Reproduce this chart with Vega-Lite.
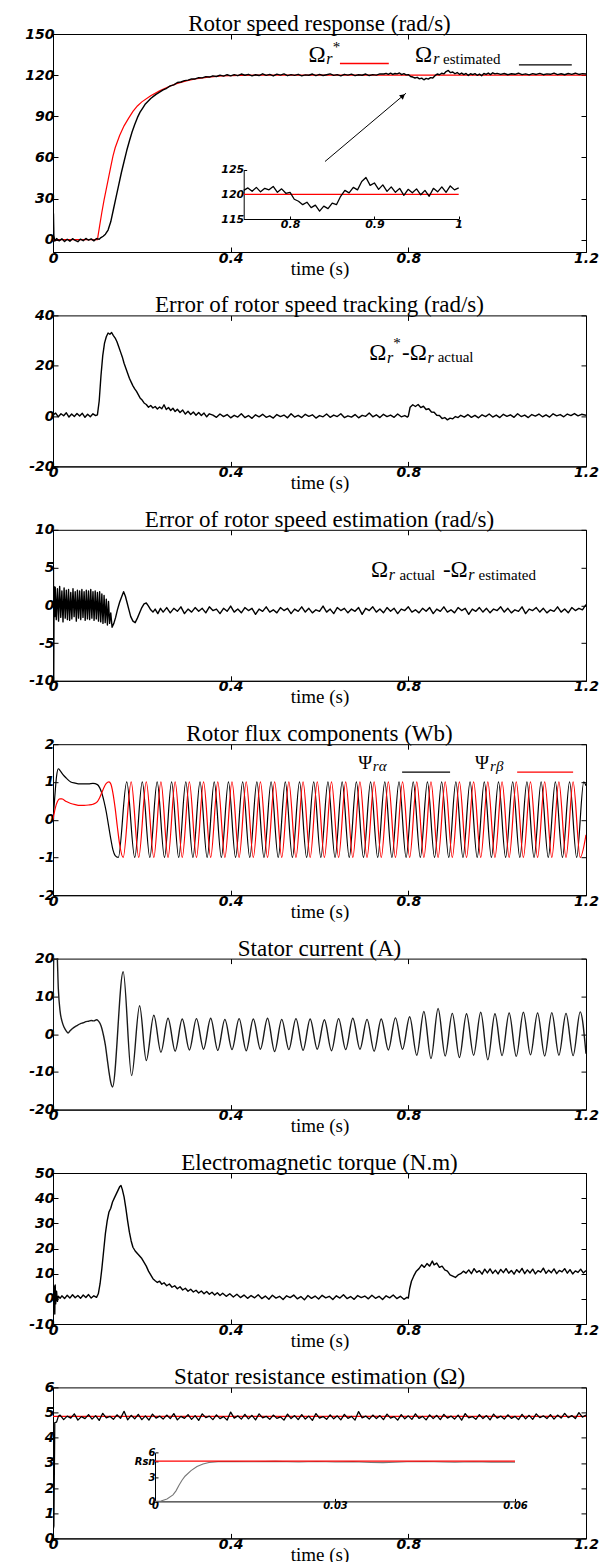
{
"$schema":"https://vega.github.io/schema/vega-lite/v6.json",
"background":"white",
"padding":{"left":24,"top":12,"right":0,"bottom":0},
"bounds":"flush",
"spacing":63.4,
"config":{
 "view":{"stroke":"#000","strokeWidth":1},
 "axis":{"grid":false,"domainColor":"#000","tickColor":"#000","labelColor":"#000","titleColor":"#000","labelFont":"DejaVu Sans","labelFontStyle":"italic","labelFontWeight":"bold","labelFontSize":14,"labelFlush":false,"labelOverlap":false,"tickSize":-5,"labelPadding":4,"titleFont":"Liberation Serif","titleFontWeight":"normal","titleFontSize":19},
 "title":{"font":"Liberation Serif","fontSize":23,"fontWeight":"normal","color":"#000","baseline":"alphabetic","offset":-9,"anchor":"middle","frame":"group"}
},
"datasets":{
 "spRef":[{"t":0,"v":0},{"t":0.1,"v":0},{"t":0.105,"v":10},{"t":0.11,"v":20},{"t":0.115,"v":29},{"t":0.12,"v":37},{"t":0.125,"v":45},{"t":0.13,"v":53},{"t":0.135,"v":61},{"t":0.14,"v":67},{"t":0.15,"v":76},{"t":0.16,"v":83},{"t":0.17,"v":88.5},{"t":0.18,"v":93.5},{"t":0.19,"v":97.5},{"t":0.2,"v":100.5},{"t":0.22,"v":105},{"t":0.24,"v":108.5},{"t":0.26,"v":111.5},{"t":0.28,"v":114},{"t":0.3,"v":115.8},{"t":0.32,"v":117.2},{"t":0.35,"v":118.6},{"t":0.38,"v":119.4},{"t":0.42,"v":119.8},{"t":0.46,"v":120},{"t":1.2,"v":120}],
 "spEst":[{"t":0,"v":0},{"t":0.001,"v":19},{"t":0.002,"v":3},{"t":0.004,"v":-1},{"t":0.008,"v":0.8},{"t":0.014,"v":-0.9},{"t":0.02,"v":0.6},{"t":0.026,"v":-1.4},{"t":0.032,"v":0.3},{"t":0.038,"v":-1.1},{"t":0.044,"v":0.7},{"t":0.05,"v":-0.6},{"t":0.056,"v":-1.5},{"t":0.062,"v":0.4},{"t":0.068,"v":-0.8},{"t":0.074,"v":0.9},{"t":0.08,"v":-0.4},{"t":0.086,"v":0.6},{"t":0.092,"v":-0.9},{"t":0.098,"v":0.8},{"t":0.104,"v":0.3},{"t":0.108,"v":1.5},{"t":0.113,"v":2.5},{"t":0.118,"v":4},{"t":0.124,"v":7},{"t":0.13,"v":13},{"t":0.136,"v":22},{"t":0.142,"v":31},{"t":0.148,"v":40},{"t":0.154,"v":49},{"t":0.16,"v":57},{"t":0.166,"v":65},{"t":0.172,"v":72},{"t":0.178,"v":78.5},{"t":0.184,"v":84},{"t":0.19,"v":89},{"t":0.196,"v":93},{"t":0.202,"v":96},{"t":0.208,"v":99},{"t":0.214,"v":101},{"t":0.22,"v":103},{"t":0.226,"v":104.5},{"t":0.232,"v":106},{"t":0.24,"v":107.6},{"t":0.248,"v":109.2},{"t":0.256,"v":110.4},{"t":0.264,"v":112.2},{"t":0.272,"v":112.9},{"t":0.28,"v":114.6},{"t":0.288,"v":115},{"t":0.296,"v":116},{"t":0.304,"v":116.4},{"t":0.312,"v":117.3},{"t":0.32,"v":117.2},{"t":0.328,"v":118.2},{"t":0.336,"v":118},{"t":0.344,"v":118.9},{"t":0.352,"v":118.6},{"t":0.36,"v":119.5},{"t":0.368,"v":119},{"t":0.376,"v":120},{"t":0.384,"v":119.3},{"t":0.392,"v":120.3},{"t":0.4,"v":119.5},{"t":0.408,"v":120.4},{"t":0.416,"v":119.6},{"t":0.424,"v":120.8},{"t":0.432,"v":119.9},{"t":0.44,"v":120.6},{"t":0.448,"v":119.5},{"t":0.456,"v":120.3},{"t":0.464,"v":119.7},{"t":0.472,"v":121},{"t":0.48,"v":119.8},{"t":0.488,"v":120.5},{"t":0.496,"v":119.4},{"t":0.504,"v":120.7},{"t":0.512,"v":120},{"t":0.52,"v":120.9},{"t":0.528,"v":119.6},{"t":0.536,"v":120.4},{"t":0.544,"v":119.8},{"t":0.552,"v":120.6},{"t":0.56,"v":119.5},{"t":0.568,"v":120.2},{"t":0.576,"v":119.9},{"t":0.584,"v":120.8},{"t":0.592,"v":119.6},{"t":0.6,"v":120.5},{"t":0.608,"v":119.7},{"t":0.616,"v":120.3},{"t":0.624,"v":120.9},{"t":0.632,"v":119.8},{"t":0.64,"v":120.4},{"t":0.648,"v":119.5},{"t":0.656,"v":120.6},{"t":0.664,"v":120},{"t":0.672,"v":120.7},{"t":0.68,"v":119.6},{"t":0.688,"v":120.3},{"t":0.696,"v":119.9},{"t":0.704,"v":120.8},{"t":0.712,"v":119.7},{"t":0.72,"v":120.4},{"t":0.728,"v":120},{"t":0.736,"v":120.9},{"t":0.745,"v":120.8},{"t":0.75,"v":121.3},{"t":0.755,"v":120.6},{"t":0.76,"v":121.4},{"t":0.765,"v":120.5},{"t":0.77,"v":121.2},{"t":0.775,"v":120.9},{"t":0.78,"v":121.6},{"t":0.785,"v":120.4},{"t":0.79,"v":121.1},{"t":0.795,"v":120.2},{"t":0.8,"v":120.4},{"t":0.805,"v":119},{"t":0.81,"v":118.6},{"t":0.815,"v":117.9},{"t":0.82,"v":118.4},{"t":0.825,"v":117.3},{"t":0.83,"v":117.8},{"t":0.835,"v":116.6},{"t":0.84,"v":117.6},{"t":0.845,"v":117.1},{"t":0.85,"v":118.2},{"t":0.855,"v":117.9},{"t":0.86,"v":119.6},{"t":0.865,"v":120.8},{"t":0.87,"v":120.3},{"t":0.875,"v":121.4},{"t":0.88,"v":120.9},{"t":0.885,"v":122.6},{"t":0.89,"v":123.4},{"t":0.895,"v":121.8},{"t":0.9,"v":122.3},{"t":0.905,"v":121},{"t":0.91,"v":121.9},{"t":0.915,"v":120.6},{"t":0.92,"v":121.5},{"t":0.925,"v":120.4},{"t":0.93,"v":121.2},{"t":0.935,"v":119.8},{"t":0.94,"v":121},{"t":0.945,"v":120.3},{"t":0.95,"v":121.1},{"t":0.955,"v":119.9},{"t":0.96,"v":120.8},{"t":0.965,"v":119.6},{"t":0.97,"v":121.2},{"t":0.975,"v":120.5},{"t":0.98,"v":121.5},{"t":0.985,"v":120.4},{"t":0.99,"v":121.7},{"t":0.995,"v":120.9},{"t":1,"v":121.3},{"t":1.008,"v":120.5},{"t":1.016,"v":121.2},{"t":1.024,"v":120.3},{"t":1.032,"v":121},{"t":1.04,"v":120.6},{"t":1.048,"v":121.4},{"t":1.056,"v":120.4},{"t":1.064,"v":120.9},{"t":1.072,"v":120.2},{"t":1.08,"v":121.1},{"t":1.088,"v":120.5},{"t":1.096,"v":121.3},{"t":1.104,"v":120.3},{"t":1.112,"v":120.9},{"t":1.12,"v":120.6},{"t":1.128,"v":121.5},{"t":1.136,"v":120.4},{"t":1.144,"v":121},{"t":1.152,"v":120.3},{"t":1.16,"v":121.2},{"t":1.168,"v":120.6},{"t":1.176,"v":121.4},{"t":1.184,"v":120.5},{"t":1.192,"v":121.1},{"t":1.2,"v":120.8}],
 "e1":[{"t":0,"v":0.5},{"t":0.006,"v":1.2},{"t":0.012,"v":-0.3},{"t":0.018,"v":0.9},{"t":0.024,"v":0.1},{"t":0.03,"v":1.3},{"t":0.036,"v":-0.4},{"t":0.042,"v":0.8},{"t":0.048,"v":-0.2},{"t":0.054,"v":1},{"t":0.06,"v":0},{"t":0.066,"v":1.1},{"t":0.072,"v":-0.5},{"t":0.078,"v":0.7},{"t":0.084,"v":-0.3},{"t":0.09,"v":0.9},{"t":0.096,"v":0.2},{"t":0.1,"v":0.5},{"t":0.104,"v":6},{"t":0.108,"v":16},{"t":0.112,"v":24},{"t":0.116,"v":29},{"t":0.12,"v":31.5},{"t":0.124,"v":33},{"t":0.128,"v":32.5},{"t":0.132,"v":33.2},{"t":0.136,"v":32},{"t":0.14,"v":31},{"t":0.144,"v":29.5},{"t":0.148,"v":27.5},{"t":0.152,"v":25.5},{"t":0.156,"v":23.5},{"t":0.16,"v":21},{"t":0.164,"v":19},{"t":0.168,"v":17},{"t":0.172,"v":15},{"t":0.176,"v":13.5},{"t":0.18,"v":12},{"t":0.184,"v":10.8},{"t":0.188,"v":9.8},{"t":0.192,"v":8.5},{"t":0.196,"v":7.2},{"t":0.2,"v":6.5},{"t":0.205,"v":5.2},{"t":0.21,"v":4.6},{"t":0.215,"v":3.5},{"t":0.22,"v":4.2},{"t":0.225,"v":3.2},{"t":0.23,"v":3.8},{"t":0.235,"v":2.8},{"t":0.24,"v":3.6},{"t":0.245,"v":2.9},{"t":0.25,"v":4.5},{"t":0.255,"v":2.6},{"t":0.26,"v":3.4},{"t":0.265,"v":2.2},{"t":0.27,"v":3.1},{"t":0.275,"v":1.8},{"t":0.28,"v":2.7},{"t":0.286,"v":1.4},{"t":0.292,"v":2.4},{"t":0.298,"v":0.8},{"t":0.304,"v":1.9},{"t":0.31,"v":0.6},{"t":0.316,"v":1.6},{"t":0.322,"v":0.3},{"t":0.328,"v":1.4},{"t":0.334,"v":0.2},{"t":0.34,"v":1.2},{"t":0.346,"v":-0.3},{"t":0.352,"v":0.9},{"t":0.36,"v":0.4},{"t":0.368,"v":-0.5},{"t":0.376,"v":0.8},{"t":0.384,"v":-0.2},{"t":0.392,"v":0.6},{"t":0.4,"v":-0.7},{"t":0.408,"v":0.3},{"t":0.416,"v":-0.4},{"t":0.424,"v":0.9},{"t":0.432,"v":-0.6},{"t":0.44,"v":0.2},{"t":0.448,"v":-0.9},{"t":0.456,"v":0.5},{"t":0.464,"v":-0.3},{"t":0.472,"v":0.7},{"t":0.48,"v":-0.5},{"t":0.488,"v":0.1},{"t":0.496,"v":-0.8},{"t":0.504,"v":0.6},{"t":0.512,"v":-0.2},{"t":0.52,"v":0.4},{"t":0.528,"v":-0.7},{"t":0.536,"v":0.9},{"t":0.544,"v":-0.4},{"t":0.552,"v":0.3},{"t":0.56,"v":-0.6},{"t":0.568,"v":0.7},{"t":0.576,"v":-0.1},{"t":0.584,"v":0.5},{"t":0.592,"v":-0.8},{"t":0.6,"v":0.2},{"t":0.608,"v":-0.3},{"t":0.616,"v":0.8},{"t":0.624,"v":-0.5},{"t":0.632,"v":0.4},{"t":0.64,"v":-0.2},{"t":0.648,"v":0.9},{"t":0.656,"v":-0.6},{"t":0.664,"v":0.1},{"t":0.672,"v":-0.4},{"t":0.68,"v":0.6},{"t":0.688,"v":-0.7},{"t":0.696,"v":0.3},{"t":0.704,"v":-0.1},{"t":0.712,"v":1.2},{"t":0.72,"v":-0.3},{"t":0.728,"v":0.5},{"t":0.736,"v":-0.6},{"t":0.744,"v":0.7},{"t":0.752,"v":-0.2},{"t":0.76,"v":0.4},{"t":0.768,"v":-0.5},{"t":0.776,"v":0.8},{"t":0.784,"v":-0.3},{"t":0.792,"v":0.2},{"t":0.798,"v":-0.4},{"t":0.8,"v":0},{"t":0.804,"v":3.5},{"t":0.81,"v":4.5},{"t":0.816,"v":3.8},{"t":0.822,"v":4.6},{"t":0.828,"v":3.4},{"t":0.834,"v":3.9},{"t":0.84,"v":2.6},{"t":0.846,"v":2.9},{"t":0.852,"v":1.6},{"t":0.858,"v":1.5},{"t":0.864,"v":0.3},{"t":0.87,"v":0.2},{"t":0.876,"v":-1},{"t":0.882,"v":-0.6},{"t":0.888,"v":-1.5},{"t":0.894,"v":-0.8},{"t":0.9,"v":-1.1},{"t":0.906,"v":-0.2},{"t":0.912,"v":-0.6},{"t":0.918,"v":0.3},{"t":0.926,"v":-0.4},{"t":0.934,"v":0.6},{"t":0.942,"v":-0.5},{"t":0.95,"v":0.3},{"t":0.958,"v":-0.7},{"t":0.966,"v":0.5},{"t":0.974,"v":-0.2},{"t":0.982,"v":0.8},{"t":0.99,"v":-0.4},{"t":0.998,"v":0.4},{"t":1.006,"v":-0.6},{"t":1.014,"v":0.7},{"t":1.022,"v":-0.1},{"t":1.03,"v":0.5},{"t":1.038,"v":-0.5},{"t":1.046,"v":0.9},{"t":1.054,"v":-0.2},{"t":1.062,"v":0.4},{"t":1.07,"v":-0.6},{"t":1.078,"v":0.6},{"t":1.086,"v":0},{"t":1.094,"v":0.8},{"t":1.102,"v":-0.3},{"t":1.11,"v":0.5},{"t":1.118,"v":-0.4},{"t":1.126,"v":0.9},{"t":1.134,"v":0.1},{"t":1.142,"v":0.6},{"t":1.15,"v":-0.3},{"t":1.158,"v":0.8},{"t":1.166,"v":0.2},{"t":1.174,"v":1},{"t":1.182,"v":0.1},{"t":1.19,"v":0.7},{"t":1.2,"v":0.3}],
 "e2":[{"t":0,"v":0},{"t":0.001,"v":5},{"t":0.0015,"v":-12},{"t":0.0025,"v":2.5},{"t":0.004,"v":-1.5},{"t":0.005,"v":2.4},{"t":0.0075,"v":-1.9},{"t":0.01,"v":2.2},{"t":0.0125,"v":-2.1},{"t":0.015,"v":2.5},{"t":0.0175,"v":-1.6},{"t":0.02,"v":1.9},{"t":0.0225,"v":-2.2},{"t":0.025,"v":2.3},{"t":0.0275,"v":-1.7},{"t":0.03,"v":2},{"t":0.0325,"v":-1.9},{"t":0.035,"v":2.1},{"t":0.0375,"v":-2},{"t":0.04,"v":1.7},{"t":0.0425,"v":-1.8},{"t":0.045,"v":2.2},{"t":0.0475,"v":-1.5},{"t":0.05,"v":1.8},{"t":0.0525,"v":-2.1},{"t":0.055,"v":2},{"t":0.0575,"v":-1.7},{"t":0.06,"v":1.9},{"t":0.0625,"v":-1.9},{"t":0.065,"v":2.1},{"t":0.0675,"v":-1.6},{"t":0.07,"v":1.8},{"t":0.0725,"v":-2},{"t":0.075,"v":2},{"t":0.0775,"v":-1.8},{"t":0.08,"v":1.9},{"t":0.0825,"v":-1.9},{"t":0.085,"v":2.1},{"t":0.0875,"v":-1.7},{"t":0.09,"v":1.8},{"t":0.0925,"v":-2},{"t":0.095,"v":1.9},{"t":0.0975,"v":-1.8},{"t":0.1,"v":1.7},{"t":0.1025,"v":-2.1},{"t":0.105,"v":1.8},{"t":0.1075,"v":-2.2},{"t":0.11,"v":1.5},{"t":0.1125,"v":-2.4},{"t":0.115,"v":1.3},{"t":0.1175,"v":-2.3},{"t":0.12,"v":0.8},{"t":0.1225,"v":-2.6},{"t":0.125,"v":0.5},{"t":0.1275,"v":-2.4},{"t":0.13,"v":-1},{"t":0.133,"v":-2.9},{"t":0.137,"v":-2.4},{"t":0.141,"v":-1.6},{"t":0.145,"v":-0.6},{"t":0.15,"v":0.4},{"t":0.155,"v":1.2},{"t":0.159,"v":1.8},{"t":0.163,"v":1.2},{"t":0.167,"v":0.3},{"t":0.171,"v":-0.6},{"t":0.175,"v":-1.5},{"t":0.18,"v":-2.1},{"t":0.185,"v":-2.3},{"t":0.19,"v":-1.7},{"t":0.195,"v":-1},{"t":0.2,"v":-0.3},{"t":0.205,"v":0.2},{"t":0.21,"v":0.3},{"t":0.215,"v":-0.1},{"t":0.22,"v":-0.6},{"t":0.225,"v":-0.9},{"t":0.23,"v":-0.5},{"t":0.236,"v":-1.1},{"t":0.242,"v":-0.4},{"t":0.248,"v":-0.9},{"t":0.256,"v":-0.3},{"t":0.264,"v":-1},{"t":0.272,"v":-0.4},{"t":0.28,"v":-0.8},{"t":0.288,"v":-0.2},{"t":0.296,"v":-1.1},{"t":0.304,"v":-0.5},{"t":0.312,"v":-0.9},{"t":0.32,"v":-0.3},{"t":0.328,"v":-0.8},{"t":0.336,"v":-0.4},{"t":0.344,"v":-1},{"t":0.352,"v":-0.2},{"t":0.36,"v":-0.7},{"t":0.368,"v":-0.5},{"t":0.376,"v":-1.1},{"t":0.384,"v":-0.4},{"t":0.392,"v":-0.8},{"t":0.4,"v":-0.1},{"t":0.408,"v":-0.9},{"t":0.416,"v":-0.5},{"t":0.424,"v":-1},{"t":0.432,"v":-0.3},{"t":0.44,"v":-0.7},{"t":0.448,"v":-0.4},{"t":0.456,"v":-1.2},{"t":0.464,"v":-0.5},{"t":0.472,"v":-0.8},{"t":0.48,"v":-0.2},{"t":0.488,"v":-0.9},{"t":0.496,"v":-0.6},{"t":0.504,"v":-1},{"t":0.512,"v":-0.3},{"t":0.52,"v":-0.7},{"t":0.528,"v":-0.4},{"t":0.536,"v":-1.1},{"t":0.544,"v":-0.5},{"t":0.552,"v":-0.8},{"t":0.56,"v":-0.2},{"t":0.568,"v":-0.9},{"t":0.576,"v":-0.4},{"t":0.584,"v":-1},{"t":0.592,"v":-0.6},{"t":0.6,"v":-0.8},{"t":0.608,"v":-0.1},{"t":0.616,"v":-0.9},{"t":0.624,"v":-0.5},{"t":0.632,"v":-1.1},{"t":0.64,"v":-0.3},{"t":0.648,"v":-0.7},{"t":0.656,"v":-0.4},{"t":0.664,"v":-1},{"t":0.672,"v":-0.5},{"t":0.68,"v":-0.8},{"t":0.688,"v":-0.3},{"t":0.696,"v":-1.2},{"t":0.704,"v":-0.4},{"t":0.712,"v":-0.7},{"t":0.72,"v":-0.2},{"t":0.728,"v":-0.9},{"t":0.736,"v":-0.5},{"t":0.744,"v":-1},{"t":0.752,"v":-0.3},{"t":0.76,"v":-0.8},{"t":0.768,"v":-0.4},{"t":0.776,"v":-1.1},{"t":0.784,"v":-0.5},{"t":0.792,"v":-0.7},{"t":0.8,"v":-0.2},{"t":0.808,"v":-0.9},{"t":0.816,"v":-0.6},{"t":0.824,"v":-1},{"t":0.832,"v":-0.4},{"t":0.84,"v":-0.8},{"t":0.848,"v":-0.3},{"t":0.856,"v":-1.1},{"t":0.864,"v":-0.5},{"t":0.872,"v":-0.8},{"t":0.88,"v":-0.2},{"t":0.888,"v":-0.9},{"t":0.896,"v":-0.6},{"t":0.904,"v":-1},{"t":0.912,"v":-0.3},{"t":0.92,"v":-0.7},{"t":0.928,"v":-0.4},{"t":0.936,"v":-1.2},{"t":0.944,"v":-0.5},{"t":0.952,"v":-0.8},{"t":0.96,"v":-0.3},{"t":0.968,"v":-0.9},{"t":0.976,"v":-0.4},{"t":0.984,"v":-1},{"t":0.992,"v":-0.5},{"t":1,"v":-0.7},{"t":1.008,"v":-0.2},{"t":1.016,"v":-0.9},{"t":1.024,"v":-0.4},{"t":1.032,"v":-1},{"t":1.04,"v":-0.6},{"t":1.048,"v":-0.8},{"t":1.056,"v":-0.2},{"t":1.064,"v":-1.1},{"t":1.072,"v":-0.5},{"t":1.08,"v":-0.7},{"t":1.088,"v":-0.3},{"t":1.096,"v":-0.9},{"t":1.104,"v":-0.4},{"t":1.112,"v":-1},{"t":1.12,"v":-0.6},{"t":1.128,"v":-0.8},{"t":1.136,"v":-0.2},{"t":1.144,"v":-0.9},{"t":1.152,"v":-0.5},{"t":1.16,"v":-1},{"t":1.168,"v":-0.3},{"t":1.176,"v":-0.7},{"t":1.184,"v":-0.4},{"t":1.192,"v":-0.6},{"t":1.2,"v":0.1}],
 "fa":[{"t":0,"v":0},{"t":0.004,"v":0.6},{"t":0.008,"v":1.15},{"t":0.012,"v":1.35},{"t":0.016,"v":1.3},{"t":0.022,"v":1.2},{"t":0.03,"v":1.1},{"t":0.04,"v":1},{"t":0.05,"v":0.97},{"t":0.06,"v":0.95},{"t":0.08,"v":0.95},{"t":0.09,"v":0.96},{"t":0.1,"v":0.93},{"t":0.105,"v":0.85},{"t":0.11,"v":0.7},{"t":0.115,"v":0.48},{"t":0.12,"v":0.2},{"t":0.125,"v":-0.15},{"t":0.13,"v":-0.5},{"t":0.135,"v":-0.8},{"t":0.14,"v":-0.95},{"t":0.147,"v":-1},{"t":0.166,"v":1},{"t":0.184,"v":-1},{"t":0.201,"v":1},{"t":0.218,"v":-1},{"t":0.2345,"v":1},{"t":0.251,"v":-1},{"t":0.267,"v":1},{"t":0.283,"v":-1},{"t":0.299,"v":1},{"t":0.315,"v":-1},{"t":0.331,"v":1},{"t":0.347,"v":-1},{"t":0.363,"v":1},{"t":0.379,"v":-1},{"t":0.395,"v":1},{"t":0.411,"v":-1},{"t":0.427,"v":1},{"t":0.443,"v":-1},{"t":0.459,"v":1},{"t":0.475,"v":-1},{"t":0.491,"v":1},{"t":0.507,"v":-1},{"t":0.523,"v":1},{"t":0.539,"v":-1},{"t":0.555,"v":1},{"t":0.571,"v":-1},{"t":0.587,"v":1},{"t":0.603,"v":-1},{"t":0.619,"v":1},{"t":0.635,"v":-1},{"t":0.651,"v":1},{"t":0.667,"v":-1},{"t":0.683,"v":1},{"t":0.699,"v":-1},{"t":0.715,"v":1},{"t":0.731,"v":-1},{"t":0.747,"v":1},{"t":0.763,"v":-1},{"t":0.779,"v":1},{"t":0.795,"v":-1},{"t":0.811,"v":1},{"t":0.827,"v":-1},{"t":0.843,"v":1},{"t":0.859,"v":-1},{"t":0.875,"v":1},{"t":0.891,"v":-1},{"t":0.907,"v":1},{"t":0.923,"v":-1},{"t":0.939,"v":1},{"t":0.955,"v":-1},{"t":0.971,"v":1},{"t":0.987,"v":-1},{"t":1.003,"v":1},{"t":1.019,"v":-1},{"t":1.035,"v":1},{"t":1.051,"v":-1},{"t":1.067,"v":1},{"t":1.083,"v":-1},{"t":1.099,"v":1},{"t":1.115,"v":-1},{"t":1.131,"v":1},{"t":1.147,"v":-1},{"t":1.163,"v":1},{"t":1.179,"v":-1},{"t":1.195,"v":1},{"t":1.2,"v":0.9}],
 "fb":[{"t":0,"v":0},{"t":0.005,"v":0.3},{"t":0.01,"v":0.48},{"t":0.015,"v":0.55},{"t":0.02,"v":0.55},{"t":0.03,"v":0.48},{"t":0.04,"v":0.43},{"t":0.05,"v":0.4},{"t":0.06,"v":0.38},{"t":0.07,"v":0.38},{"t":0.08,"v":0.39},{"t":0.09,"v":0.41},{"t":0.1,"v":0.48},{"t":0.105,"v":0.58},{"t":0.11,"v":0.72},{"t":0.115,"v":0.86},{"t":0.12,"v":0.96},{"t":0.126,"v":1},{"t":0.13,"v":0.95},{"t":0.135,"v":0.7},{"t":0.14,"v":0.3},{"t":0.145,"v":-0.2},{"t":0.15,"v":-0.65},{"t":0.158,"v":-1},{"t":0.176,"v":1},{"t":0.193,"v":-1},{"t":0.21,"v":1},{"t":0.227,"v":-1},{"t":0.243,"v":1},{"t":0.259,"v":-1},{"t":0.275,"v":1},{"t":0.291,"v":-1},{"t":0.307,"v":1},{"t":0.323,"v":-1},{"t":0.339,"v":1},{"t":0.355,"v":-1},{"t":0.371,"v":1},{"t":0.387,"v":-1},{"t":0.403,"v":1},{"t":0.419,"v":-1},{"t":0.435,"v":1},{"t":0.451,"v":-1},{"t":0.467,"v":1},{"t":0.483,"v":-1},{"t":0.499,"v":1},{"t":0.515,"v":-1},{"t":0.531,"v":1},{"t":0.547,"v":-1},{"t":0.563,"v":1},{"t":0.579,"v":-1},{"t":0.595,"v":1},{"t":0.611,"v":-1},{"t":0.627,"v":1},{"t":0.643,"v":-1},{"t":0.659,"v":1},{"t":0.675,"v":-1},{"t":0.691,"v":1},{"t":0.707,"v":-1},{"t":0.723,"v":1},{"t":0.739,"v":-1},{"t":0.755,"v":1},{"t":0.771,"v":-1},{"t":0.787,"v":1},{"t":0.803,"v":-1},{"t":0.819,"v":1},{"t":0.835,"v":-1},{"t":0.851,"v":1},{"t":0.867,"v":-1},{"t":0.883,"v":1},{"t":0.899,"v":-1},{"t":0.915,"v":1},{"t":0.931,"v":-1},{"t":0.947,"v":1},{"t":0.963,"v":-1},{"t":0.979,"v":1},{"t":0.995,"v":-1},{"t":1.011,"v":1},{"t":1.027,"v":-1},{"t":1.043,"v":1},{"t":1.059,"v":-1},{"t":1.075,"v":1},{"t":1.091,"v":-1},{"t":1.107,"v":1},{"t":1.123,"v":-1},{"t":1.139,"v":1},{"t":1.155,"v":-1},{"t":1.171,"v":1},{"t":1.187,"v":-1},{"t":1.2,"v":-0.4}],
 "cur":[{"t":0,"v":0},{"t":0.002,"v":22},{"t":0.006,"v":24},{"t":0.009,"v":22},{"t":0.012,"v":12},{"t":0.016,"v":6},{"t":0.02,"v":3.5},{"t":0.025,"v":1.8},{"t":0.03,"v":0.8},{"t":0.034,"v":0.3},{"t":0.038,"v":0.8},{"t":0.044,"v":1.5},{"t":0.05,"v":2},{"t":0.056,"v":2.4},{"t":0.062,"v":2.8},{"t":0.068,"v":3},{"t":0.074,"v":3.3},{"t":0.08,"v":3.4},{"t":0.086,"v":3.6},{"t":0.092,"v":3.5},{"t":0.098,"v":3.8},{"t":0.102,"v":3.5},{"t":0.106,"v":2.8},{"t":0.11,"v":1.5},{"t":0.114,"v":-0.5},{"t":0.118,"v":-3},{"t":0.122,"v":-6.5},{"t":0.126,"v":-10},{"t":0.13,"v":-12.8},{"t":0.134,"v":-14},{"t":0.158,"v":16.5},{"t":0.177,"v":-11},{"t":0.195,"v":7.5},{"t":0.21,"v":-7},{"t":0.227,"v":5},{"t":0.243,"v":-4.8},{"t":0.259,"v":4.2},{"t":0.275,"v":-4.5},{"t":0.291,"v":4},{"t":0.307,"v":-4.2},{"t":0.323,"v":4.1},{"t":0.339,"v":-4},{"t":0.355,"v":4.2},{"t":0.371,"v":-4.3},{"t":0.387,"v":3.9},{"t":0.403,"v":-4.1},{"t":0.419,"v":4.1},{"t":0.435,"v":-4.4},{"t":0.451,"v":4},{"t":0.467,"v":-4},{"t":0.483,"v":4.2},{"t":0.499,"v":-4.6},{"t":0.515,"v":3.9},{"t":0.531,"v":-4.1},{"t":0.547,"v":4.1},{"t":0.563,"v":-4.3},{"t":0.579,"v":4},{"t":0.595,"v":-4},{"t":0.611,"v":3.8},{"t":0.627,"v":-4.4},{"t":0.643,"v":4.1},{"t":0.659,"v":-4.1},{"t":0.675,"v":4.2},{"t":0.691,"v":-4},{"t":0.707,"v":3.9},{"t":0.723,"v":-4.5},{"t":0.739,"v":4},{"t":0.755,"v":-4.2},{"t":0.771,"v":4.3},{"t":0.787,"v":-4},{"t":0.803,"v":4.6},{"t":0.819,"v":-5.6},{"t":0.835,"v":6},{"t":0.851,"v":-6.5},{"t":0.867,"v":6.8},{"t":0.883,"v":-5.8},{"t":0.899,"v":5.5},{"t":0.915,"v":-6.2},{"t":0.931,"v":5.4},{"t":0.947,"v":-5.6},{"t":0.963,"v":5.8},{"t":0.979,"v":-6.8},{"t":0.995,"v":5.4},{"t":1.011,"v":-5.7},{"t":1.027,"v":5.6},{"t":1.043,"v":-5.9},{"t":1.059,"v":5.8},{"t":1.075,"v":-5.5},{"t":1.091,"v":5.6},{"t":1.107,"v":-5.8},{"t":1.123,"v":5.7},{"t":1.139,"v":-5.6},{"t":1.155,"v":5.5},{"t":1.171,"v":-5.7},{"t":1.187,"v":5.9},{"t":1.2,"v":-5.2}],
 "tq":[{"t":0,"v":0},{"t":0.002,"v":-5},{"t":0.003,"v":5},{"t":0.004,"v":-6},{"t":0.005,"v":5.5},{"t":0.006,"v":-2},{"t":0.008,"v":3},{"t":0.01,"v":-1},{"t":0.012,"v":1},{"t":0.016,"v":0.2},{"t":0.02,"v":1.2},{"t":0.026,"v":0.1},{"t":0.032,"v":1.4},{"t":0.038,"v":0.3},{"t":0.044,"v":1.6},{"t":0.05,"v":0.4},{"t":0.056,"v":1.3},{"t":0.062,"v":0.2},{"t":0.068,"v":1.5},{"t":0.074,"v":0.5},{"t":0.08,"v":1.7},{"t":0.086,"v":0.3},{"t":0.092,"v":1.2},{"t":0.098,"v":0.6},{"t":0.102,"v":2},{"t":0.106,"v":6},{"t":0.11,"v":12},{"t":0.114,"v":19},{"t":0.118,"v":26},{"t":0.122,"v":31},{"t":0.126,"v":34.5},{"t":0.13,"v":36},{"t":0.134,"v":38.5},{"t":0.138,"v":40},{"t":0.142,"v":41.5},{"t":0.146,"v":43},{"t":0.15,"v":44.5},{"t":0.153,"v":45},{"t":0.156,"v":43.5},{"t":0.16,"v":40.5},{"t":0.164,"v":36},{"t":0.168,"v":31},{"t":0.172,"v":26.5},{"t":0.176,"v":23},{"t":0.18,"v":20.5},{"t":0.185,"v":19},{"t":0.19,"v":18},{"t":0.195,"v":17},{"t":0.2,"v":16},{"t":0.205,"v":14.5},{"t":0.21,"v":13},{"t":0.215,"v":11},{"t":0.22,"v":9.5},{"t":0.225,"v":8},{"t":0.23,"v":7.2},{"t":0.235,"v":6.5},{"t":0.24,"v":7},{"t":0.245,"v":5.8},{"t":0.25,"v":6.4},{"t":0.256,"v":5.2},{"t":0.262,"v":5.9},{"t":0.268,"v":4.6},{"t":0.274,"v":5.2},{"t":0.28,"v":4},{"t":0.286,"v":4.8},{"t":0.292,"v":3.5},{"t":0.298,"v":4.2},{"t":0.304,"v":3},{"t":0.31,"v":3.8},{"t":0.316,"v":2.7},{"t":0.322,"v":3.4},{"t":0.328,"v":2.3},{"t":0.334,"v":3.1},{"t":0.34,"v":2},{"t":0.346,"v":2.9},{"t":0.352,"v":1.8},{"t":0.358,"v":2.6},{"t":0.364,"v":1.5},{"t":0.37,"v":2.4},{"t":0.376,"v":1.3},{"t":0.382,"v":2.2},{"t":0.39,"v":1},{"t":0.398,"v":2},{"t":0.406,"v":0.7},{"t":0.414,"v":1.8},{"t":0.422,"v":0.5},{"t":0.43,"v":1.5},{"t":0.438,"v":0.2},{"t":0.446,"v":1.3},{"t":0.454,"v":0.4},{"t":0.462,"v":1.6},{"t":0.47,"v":0.1},{"t":0.478,"v":1.1},{"t":0.486,"v":-0.2},{"t":0.494,"v":1.4},{"t":0.502,"v":0.3},{"t":0.51,"v":1},{"t":0.518,"v":-0.3},{"t":0.526,"v":1.2},{"t":0.534,"v":0.5},{"t":0.542,"v":1.5},{"t":0.55,"v":0},{"t":0.558,"v":0.9},{"t":0.566,"v":-0.4},{"t":0.574,"v":1.3},{"t":0.582,"v":0.2},{"t":0.59,"v":1.1},{"t":0.598,"v":-0.1},{"t":0.606,"v":1.4},{"t":0.614,"v":0.4},{"t":0.622,"v":1},{"t":0.63,"v":-0.3},{"t":0.638,"v":1.2},{"t":0.646,"v":0.3},{"t":0.654,"v":1.6},{"t":0.662,"v":0.1},{"t":0.67,"v":0.9},{"t":0.678,"v":-0.2},{"t":0.686,"v":1.3},{"t":0.694,"v":0.5},{"t":0.702,"v":1.1},{"t":0.71,"v":0},{"t":0.718,"v":1.4},{"t":0.726,"v":0.2},{"t":0.734,"v":1},{"t":0.742,"v":-0.3},{"t":0.75,"v":1.2},{"t":0.758,"v":0.4},{"t":0.766,"v":1.5},{"t":0.774,"v":0.1},{"t":0.782,"v":1},{"t":0.79,"v":-0.2},{"t":0.797,"v":0.6},{"t":0.8,"v":0.3},{"t":0.803,"v":4},{"t":0.807,"v":7},{"t":0.812,"v":9},{"t":0.818,"v":11},{"t":0.824,"v":12},{"t":0.83,"v":13.5},{"t":0.836,"v":12.5},{"t":0.842,"v":14},{"t":0.848,"v":13},{"t":0.854,"v":15},{"t":0.858,"v":13.5},{"t":0.864,"v":14.2},{"t":0.87,"v":12.5},{"t":0.876,"v":13},{"t":0.882,"v":11.5},{"t":0.888,"v":11},{"t":0.894,"v":9.5},{"t":0.9,"v":9},{"t":0.906,"v":8.5},{"t":0.912,"v":9.5},{"t":0.918,"v":10},{"t":0.924,"v":11},{"t":0.93,"v":10.2},{"t":0.936,"v":11.5},{"t":0.942,"v":10},{"t":0.948,"v":12},{"t":0.954,"v":10.5},{"t":0.96,"v":11.2},{"t":0.966,"v":9.8},{"t":0.972,"v":11.8},{"t":0.978,"v":10.3},{"t":0.984,"v":11.9},{"t":0.99,"v":10.1},{"t":0.996,"v":11.4},{"t":1.002,"v":9.9},{"t":1.008,"v":11.7},{"t":1.014,"v":10.4},{"t":1.02,"v":12},{"t":1.026,"v":10.2},{"t":1.032,"v":11.3},{"t":1.038,"v":9.8},{"t":1.044,"v":11.6},{"t":1.05,"v":10.5},{"t":1.056,"v":12.1},{"t":1.062,"v":10},{"t":1.068,"v":11.5},{"t":1.074,"v":10.3},{"t":1.08,"v":11.8},{"t":1.086,"v":9.9},{"t":1.092,"v":11.2},{"t":1.098,"v":10.6},{"t":1.104,"v":12.2},{"t":1.11,"v":10.1},{"t":1.116,"v":11.4},{"t":1.122,"v":10.4},{"t":1.128,"v":11.9},{"t":1.134,"v":10},{"t":1.14,"v":11.3},{"t":1.146,"v":10.7},{"t":1.152,"v":12},{"t":1.158,"v":10.2},{"t":1.164,"v":11.6},{"t":1.17,"v":9.9},{"t":1.176,"v":11.1},{"t":1.182,"v":10.5},{"t":1.188,"v":11.8},{"t":1.194,"v":10.3},{"t":1.2,"v":11.2}],
 "rs":[{"t":0,"v":0.3},{"t":0.002,"v":0.5},{"t":0.004,"v":4.6},{"t":0.008,"v":4.62},{"t":0.012,"v":4.85},{"t":0.016,"v":4.9},{"t":0.024,"v":4.72},{"t":0.032,"v":4.86},{"t":0.04,"v":4.78},{"t":0.048,"v":4.95},{"t":0.056,"v":4.7},{"t":0.064,"v":4.84},{"t":0.072,"v":4.76},{"t":0.08,"v":4.92},{"t":0.088,"v":4.74},{"t":0.096,"v":4.88},{"t":0.104,"v":4.69},{"t":0.112,"v":4.97},{"t":0.12,"v":4.79},{"t":0.128,"v":4.85},{"t":0.136,"v":4.73},{"t":0.144,"v":4.91},{"t":0.152,"v":4.77},{"t":0.16,"v":5.05},{"t":0.168,"v":4.71},{"t":0.176,"v":4.89},{"t":0.184,"v":4.75},{"t":0.192,"v":4.93},{"t":0.2,"v":4.72},{"t":0.208,"v":4.87},{"t":0.216,"v":4.7},{"t":0.224,"v":4.94},{"t":0.232,"v":4.78},{"t":0.24,"v":4.86},{"t":0.248,"v":4.74},{"t":0.256,"v":4.9},{"t":0.264,"v":4.76},{"t":0.272,"v":4.96},{"t":0.28,"v":4.71},{"t":0.288,"v":4.85},{"t":0.296,"v":4.77},{"t":0.304,"v":4.92},{"t":0.312,"v":4.73},{"t":0.32,"v":4.88},{"t":0.328,"v":4.69},{"t":0.336,"v":4.95},{"t":0.344,"v":4.8},{"t":0.352,"v":4.86},{"t":0.36,"v":4.72},{"t":0.368,"v":4.91},{"t":0.376,"v":4.76},{"t":0.384,"v":4.84},{"t":0.392,"v":4.7},{"t":0.4,"v":5.02},{"t":0.408,"v":4.78},{"t":0.416,"v":4.87},{"t":0.424,"v":4.74},{"t":0.432,"v":4.93},{"t":0.44,"v":4.75},{"t":0.448,"v":4.89},{"t":0.456,"v":4.71},{"t":0.464,"v":4.95},{"t":0.472,"v":4.79},{"t":0.48,"v":4.85},{"t":0.488,"v":4.73},{"t":0.496,"v":4.9},{"t":0.504,"v":4.77},{"t":0.512,"v":4.83},{"t":0.52,"v":4.7},{"t":0.528,"v":4.94},{"t":0.536,"v":4.76},{"t":0.544,"v":4.88},{"t":0.552,"v":4.72},{"t":0.56,"v":4.92},{"t":0.568,"v":4.74},{"t":0.576,"v":4.86},{"t":0.584,"v":4.69},{"t":0.592,"v":4.96},{"t":0.6,"v":4.78},{"t":0.608,"v":4.84},{"t":0.616,"v":4.73},{"t":0.624,"v":4.91},{"t":0.632,"v":4.75},{"t":0.64,"v":4.87},{"t":0.648,"v":4.71},{"t":0.656,"v":4.93},{"t":0.664,"v":4.77},{"t":0.672,"v":4.85},{"t":0.68,"v":4.7},{"t":0.688,"v":5.04},{"t":0.696,"v":4.79},{"t":0.704,"v":4.86},{"t":0.712,"v":4.74},{"t":0.72,"v":4.9},{"t":0.728,"v":4.76},{"t":0.736,"v":4.88},{"t":0.744,"v":4.72},{"t":0.752,"v":4.94},{"t":0.76,"v":4.78},{"t":0.768,"v":4.84},{"t":0.776,"v":4.7},{"t":0.784,"v":4.92},{"t":0.792,"v":4.75},{"t":0.8,"v":4.87},{"t":0.808,"v":4.73},{"t":0.816,"v":4.95},{"t":0.824,"v":4.77},{"t":0.832,"v":4.85},{"t":0.84,"v":4.71},{"t":0.848,"v":4.91},{"t":0.856,"v":4.76},{"t":0.864,"v":4.89},{"t":0.872,"v":4.72},{"t":0.88,"v":4.93},{"t":0.888,"v":4.78},{"t":0.896,"v":4.86},{"t":0.904,"v":4.74},{"t":0.912,"v":4.9},{"t":0.92,"v":4.7},{"t":0.928,"v":4.96},{"t":0.936,"v":4.79},{"t":0.944,"v":4.84},{"t":0.952,"v":4.73},{"t":0.96,"v":4.92},{"t":0.968,"v":4.76},{"t":0.976,"v":4.88},{"t":0.984,"v":4.71},{"t":0.992,"v":4.94},{"t":1,"v":4.78},{"t":1.008,"v":4.86},{"t":1.016,"v":4.74},{"t":1.024,"v":4.91},{"t":1.032,"v":4.77},{"t":1.04,"v":4.85},{"t":1.048,"v":4.72},{"t":1.056,"v":4.93},{"t":1.064,"v":4.75},{"t":1.072,"v":4.89},{"t":1.08,"v":4.73},{"t":1.088,"v":4.95},{"t":1.096,"v":4.8},{"t":1.104,"v":4.87},{"t":1.112,"v":4.76},{"t":1.12,"v":4.92},{"t":1.128,"v":4.74},{"t":1.136,"v":4.9},{"t":1.144,"v":4.78},{"t":1.152,"v":4.97},{"t":1.16,"v":4.8},{"t":1.168,"v":4.88},{"t":1.176,"v":4.76},{"t":1.184,"v":5},{"t":1.192,"v":4.82},{"t":1.2,"v":4.9}],
 "rsIn":[{"t":0,"v":0},{"t":0.001,"v":0.05},{"t":0.002,"v":0.3},{"t":0.003,"v":0.8},{"t":0.0035,"v":1.3},{"t":0.004,"v":2},{"t":0.0045,"v":2.6},{"t":0.005,"v":3.1},{"t":0.006,"v":3.8},{"t":0.007,"v":4.3},{"t":0.008,"v":4.6},{"t":0.009,"v":4.8},{"t":0.0105,"v":4.9},{"t":0.013,"v":4.92},{"t":0.016,"v":4.88},{"t":0.02,"v":4.93},{"t":0.024,"v":4.86},{"t":0.027,"v":4.92},{"t":0.03,"v":4.85},{"t":0.033,"v":4.9},{"t":0.036,"v":4.8},{"t":0.038,"v":4.78},{"t":0.04,"v":4.82},{"t":0.042,"v":4.88},{"t":0.045,"v":4.92},{"t":0.048,"v":4.85},{"t":0.05,"v":4.82},{"t":0.053,"v":4.88},{"t":0.056,"v":4.84},{"t":0.058,"v":4.86},{"t":0.06,"v":4.82}]
},
"vconcat":[
 {"width":533,"height":218,"title":"Rotor speed response (rad/s)",
  "layer":[
   {"encoding":{"x":{"field":"t","type":"quantitative","scale":{"domain":[0,1.2],"nice":false,"zero":false},"axis":{"orient":"bottom","values":[0,0.4,0.8,1.2],"title":"time (s)","titleY":22,"titleBaseline":"alphabetic","labelExpr":"''+datum.value"}},
     "y":{"field":"v","type":"quantitative","scale":{"domain":[-9,150],"nice":false,"zero":false},"axis":{"orient":"left","values":[0,30,60,90,120,150],"title":null,"labelExpr":"''+datum.value"}}},
    "layer":[
     {"data":{"name":"spRef"},"mark":{"type":"line","color":"#ff0000","strokeWidth":1.2,"clip":true}},
     {"data":{"name":"spEst"},"mark":{"type":"line","color":"#000","strokeWidth":1.4,"clip":true,"strokeJoin":"round"}},
     {"data":{"values":[{"t":0.6124,"v":57,"t2":0.7947,"v2":106.8}]},"mark":{"type":"rule","color":"#000","strokeWidth":1},"encoding":{"x2":{"field":"t2"},"y2":{"field":"v2"}}},
     {"data":{"values":[{"t":0.7878,"v":104.9}]},"mark":{"type":"point","shape":"triangle-up","angle":50,"size":35,"filled":true,"color":"#000","opacity":1}},
     {"data":{"values":[{"t":0.646,"v":128.5,"t2":0.756}]},"mark":{"type":"rule","color":"#ff0000","strokeWidth":1.3},"encoding":{"x2":{"field":"t2"}}},
     {"data":{"values":[{"t":1.049,"v":127.5,"t2":1.168}]},"mark":{"type":"rule","color":"#000","strokeWidth":1.3},"encoding":{"x2":{"field":"t2"}}},
     {"data":{"values":[{"t":0.575,"v":129.6,"s":"Ω"},{"t":0.815,"v":129.6,"s":"Ω"}]},"mark":{"type":"text","font":"Liberation Serif","fontSize":23,"align":"left","baseline":"alphabetic","color":"#000"},"encoding":{"text":{"field":"s"}}},
     {"data":{"values":[{"t":0.615,"v":128.2,"s":"r"},{"t":0.856,"v":128.2,"s":"r"}]},"mark":{"type":"text","font":"Liberation Serif","fontSize":16,"fontStyle":"italic","align":"left","baseline":"alphabetic","color":"#000"},"encoding":{"text":{"field":"s"}}},
     {"data":{"values":[{"t":0.63,"v":136.6,"s":"*"}]},"mark":{"type":"text","font":"Liberation Serif","fontSize":15,"align":"left","baseline":"alphabetic","color":"#000"},"encoding":{"text":{"field":"s"}}},
     {"data":{"values":[{"t":0.878,"v":128.2,"s":"estimated"}]},"mark":{"type":"text","font":"Liberation Serif","fontSize":15,"align":"left","baseline":"alphabetic","color":"#000"},"encoding":{"text":{"field":"s"}}}
    ]},
   {"data":{"values":[{"t":0,"v":0}]},"mark":{"type":"point","opacity":0},
    "encoding":{"x":{"field":"t","type":"quantitative","scale":{"domain":[0,1.2],"nice":false,"zero":false},"axis":{"orient":"top","values":[0,0.4,0.8,1.2],"labels":false,"domain":false,"title":null}},
     "y":{"field":"v","type":"quantitative","scale":{"domain":[-9,150],"nice":false,"zero":false},"axis":{"orient":"right","values":[0,30,60,90,120,150],"labels":false,"domain":false,"title":null}}}},
   {"encoding":{"x":{"field":"t","type":"quantitative","scale":{"domain":[0.745,1],"range":[190.7,405.7],"nice":false,"zero":false},"axis":{"orient":"bottom","offset":-33,"values":[0.8,0.9,1],"title":null,"labelExpr":"''+datum.value","labelFontSize":11,"tickSize":-3,"labelPadding":2}},
     "y":{"field":"v","type":"quantitative","scale":{"domain":[115,125],"range":[185,135.6],"nice":false,"zero":false},"axis":{"orient":"left","offset":-190.7,"values":[115,120,125],"title":null,"labelExpr":"''+datum.value","labelFontSize":11,"tickSize":-3,"labelPadding":3}}},
    "layer":[
     {"data":{"values":[{"t":0.745,"v":120},{"t":1,"v":120}]},"mark":{"type":"line","color":"#ff0000","strokeWidth":1.2}},
     {"data":{"name":"spEst"},"transform":[{"filter":"datum.t >= 0.745 && datum.t <= 1"}],"mark":{"type":"line","color":"#000","strokeWidth":1.3,"strokeJoin":"round"}}
    ]}
  ],
  "resolve":{"scale":{"x":"independent","y":"independent"}}},
 {"width":533,"height":151,"title":"Error of rotor speed tracking (rad/s)",
  "layer":[
   {"encoding":{"x":{"field":"t","type":"quantitative","scale":{"domain":[0,1.2],"nice":false,"zero":false},"axis":{"orient":"bottom","values":[0,0.4,0.8,1.2],"title":"time (s)","titleY":22,"titleBaseline":"alphabetic","labelExpr":"''+datum.value"}},
     "y":{"field":"v","type":"quantitative","scale":{"domain":[-20,40],"nice":false,"zero":false},"axis":{"orient":"left","values":[-20,0,20,40],"title":null,"labelExpr":"''+datum.value"}}},
    "layer":[
     {"data":{"name":"e1"},"mark":{"type":"line","color":"#000","strokeWidth":1.4,"clip":true,"strokeJoin":"round"}},
     {"data":{"values":[{"t":0.712,"v":22.1,"s":"Ω"},{"t":0.803,"v":22.1,"s":"Ω"},{"t":0.786,"v":22.1,"s":"-"}]},"mark":{"type":"text","font":"Liberation Serif","fontSize":23,"align":"left","baseline":"alphabetic","color":"#000"},"encoding":{"text":{"field":"s"}}},
     {"data":{"values":[{"t":0.752,"v":20.9,"s":"r"},{"t":0.843,"v":20.9,"s":"r"}]},"mark":{"type":"text","font":"Liberation Serif","fontSize":16,"fontStyle":"italic","align":"left","baseline":"alphabetic","color":"#000"},"encoding":{"text":{"field":"s"}}},
     {"data":{"values":[{"t":0.766,"v":27.1,"s":"*"}]},"mark":{"type":"text","font":"Liberation Serif","fontSize":15,"align":"left","baseline":"alphabetic","color":"#000"},"encoding":{"text":{"field":"s"}}},
     {"data":{"values":[{"t":0.866,"v":21.3,"s":"actual"}]},"mark":{"type":"text","font":"Liberation Serif","fontSize":15,"align":"left","baseline":"alphabetic","color":"#000"},"encoding":{"text":{"field":"s"}}}
    ]},
   {"data":{"values":[{"t":0,"v":0}]},"mark":{"type":"point","opacity":0},
    "encoding":{"x":{"field":"t","type":"quantitative","scale":{"domain":[0,1.2],"nice":false,"zero":false},"axis":{"orient":"top","values":[0,0.4,0.8,1.2],"labels":false,"domain":false,"title":null}},
     "y":{"field":"v","type":"quantitative","scale":{"domain":[-20,40],"nice":false,"zero":false},"axis":{"orient":"right","values":[-20,0,20,40],"labels":false,"domain":false,"title":null}}}}
  ],
  "resolve":{"scale":{"x":"independent","y":"independent"}}},
 {"width":533,"height":151,"title":"Error of rotor speed estimation (rad/s)",
  "layer":[
   {"encoding":{"x":{"field":"t","type":"quantitative","scale":{"domain":[0,1.2],"nice":false,"zero":false},"axis":{"orient":"bottom","values":[0,0.4,0.8,1.2],"title":"time (s)","titleY":22,"titleBaseline":"alphabetic","labelExpr":"''+datum.value"}},
     "y":{"field":"v","type":"quantitative","scale":{"domain":[-10,10],"nice":false,"zero":false},"axis":{"orient":"left","values":[-10,-5,0,5,10],"title":null,"labelExpr":"''+datum.value"}}},
    "layer":[
     {"data":{"name":"e2"},"mark":{"type":"line","color":"#000","strokeWidth":1.4,"clip":true,"strokeJoin":"round"}},
     {"data":{"values":[{"t":0.716,"v":3.69,"s":"Ω"},{"t":0.895,"v":3.69,"s":"Ω"},{"t":0.878,"v":3.69,"s":"-"}]},"mark":{"type":"text","font":"Liberation Serif","fontSize":23,"align":"left","baseline":"alphabetic","color":"#000"},"encoding":{"text":{"field":"s"}}},
     {"data":{"values":[{"t":0.756,"v":3.29,"s":"r"},{"t":0.935,"v":3.29,"s":"r"}]},"mark":{"type":"text","font":"Liberation Serif","fontSize":16,"fontStyle":"italic","align":"left","baseline":"alphabetic","color":"#000"},"encoding":{"text":{"field":"s"}}},
     {"data":{"values":[{"t":0.78,"v":3.29,"s":"actual"},{"t":0.958,"v":3.29,"s":"estimated"}]},"mark":{"type":"text","font":"Liberation Serif","fontSize":15,"align":"left","baseline":"alphabetic","color":"#000"},"encoding":{"text":{"field":"s"}}}
    ]},
   {"data":{"values":[{"t":0,"v":0}]},"mark":{"type":"point","opacity":0},
    "encoding":{"x":{"field":"t","type":"quantitative","scale":{"domain":[0,1.2],"nice":false,"zero":false},"axis":{"orient":"top","values":[0,0.4,0.8,1.2],"labels":false,"domain":false,"title":null}},
     "y":{"field":"v","type":"quantitative","scale":{"domain":[-10,10],"nice":false,"zero":false},"axis":{"orient":"right","values":[-10,-5,0,5,10],"labels":false,"domain":false,"title":null}}}}
  ],
  "resolve":{"scale":{"x":"independent","y":"independent"}}},
 {"width":533,"height":151,"title":"Rotor flux components (Wb)",
  "layer":[
   {"encoding":{"x":{"field":"t","type":"quantitative","scale":{"domain":[0,1.2],"nice":false,"zero":false},"axis":{"orient":"bottom","values":[0,0.4,0.8,1.2],"title":"time (s)","titleY":22,"titleBaseline":"alphabetic","labelExpr":"''+datum.value"}},
     "y":{"field":"v","type":"quantitative","scale":{"domain":[-2,2],"nice":false,"zero":false},"axis":{"orient":"left","values":[-2,-1,0,1,2],"title":null,"labelExpr":"''+datum.value"}}},
    "layer":[
     {"data":{"name":"fa"},"mark":{"type":"line","color":"#000","strokeWidth":1.2,"clip":true,"interpolate":"monotone"}},
     {"data":{"name":"fb"},"mark":{"type":"line","color":"#ff0000","strokeWidth":1.2,"clip":true,"interpolate":"monotone"}},
     {"data":{"values":[{"t":0.786,"v":1.26,"t2":0.894}]},"mark":{"type":"rule","color":"#000","strokeWidth":1.3},"encoding":{"x2":{"field":"t2"}}},
     {"data":{"values":[{"t":1.045,"v":1.26,"t2":1.171}]},"mark":{"type":"rule","color":"#ff0000","strokeWidth":1.3},"encoding":{"x2":{"field":"t2"}}},
     {"data":{"values":[{"t":0.687,"v":1.34,"s":"Ψ"},{"t":0.95,"v":1.34,"s":"Ψ"}]},"mark":{"type":"text","font":"Liberation Serif","fontSize":19,"align":"left","baseline":"alphabetic","color":"#000"},"encoding":{"text":{"field":"s"}}},
     {"data":{"values":[{"t":0.72,"v":1.28,"s":"rα"},{"t":0.984,"v":1.28,"s":"rβ"}]},"mark":{"type":"text","font":"Liberation Serif","fontSize":15,"fontStyle":"italic","align":"left","baseline":"alphabetic","color":"#000"},"encoding":{"text":{"field":"s"}}}
    ]},
   {"data":{"values":[{"t":0,"v":0}]},"mark":{"type":"point","opacity":0},
    "encoding":{"x":{"field":"t","type":"quantitative","scale":{"domain":[0,1.2],"nice":false,"zero":false},"axis":{"orient":"top","values":[0,0.4,0.8,1.2],"labels":false,"domain":false,"title":null}},
     "y":{"field":"v","type":"quantitative","scale":{"domain":[-2,2],"nice":false,"zero":false},"axis":{"orient":"right","values":[-2,-1,0,1,2],"labels":false,"domain":false,"title":null}}}}
  ],
  "resolve":{"scale":{"x":"independent","y":"independent"}}},
 {"width":533,"height":151,"title":"Stator current (A)",
  "layer":[
   {"encoding":{"x":{"field":"t","type":"quantitative","scale":{"domain":[0,1.2],"nice":false,"zero":false},"axis":{"orient":"bottom","values":[0,0.4,0.8,1.2],"title":"time (s)","titleY":22,"titleBaseline":"alphabetic","labelExpr":"''+datum.value"}},
     "y":{"field":"v","type":"quantitative","scale":{"domain":[-20,20],"nice":false,"zero":false},"axis":{"orient":"left","values":[-20,-10,0,10,20],"title":null,"labelExpr":"''+datum.value"}}},
    "layer":[
     {"data":{"name":"cur"},"mark":{"type":"line","color":"#1a1a1a","strokeWidth":1.4,"clip":true,"interpolate":"monotone"}}
    ]},
   {"data":{"values":[{"t":0,"v":0}]},"mark":{"type":"point","opacity":0},
    "encoding":{"x":{"field":"t","type":"quantitative","scale":{"domain":[0,1.2],"nice":false,"zero":false},"axis":{"orient":"top","values":[0,0.4,0.8,1.2],"labels":false,"domain":false,"title":null}},
     "y":{"field":"v","type":"quantitative","scale":{"domain":[-20,20],"nice":false,"zero":false},"axis":{"orient":"right","values":[-20,-10,0,10,20],"labels":false,"domain":false,"title":null}}}}
  ],
  "resolve":{"scale":{"x":"independent","y":"independent"}}},
 {"width":533,"height":151,"title":"Electromagnetic torque (N.m)",
  "layer":[
   {"encoding":{"x":{"field":"t","type":"quantitative","scale":{"domain":[0,1.2],"nice":false,"zero":false},"axis":{"orient":"bottom","values":[0,0.4,0.8,1.2],"title":"time (s)","titleY":22,"titleBaseline":"alphabetic","labelExpr":"''+datum.value"}},
     "y":{"field":"v","type":"quantitative","scale":{"domain":[-10,50],"nice":false,"zero":false},"axis":{"orient":"left","values":[-10,0,10,20,30,40,50],"title":null,"labelExpr":"''+datum.value"}}},
    "layer":[
     {"data":{"name":"tq"},"mark":{"type":"line","color":"#000","strokeWidth":1.4,"clip":true,"strokeJoin":"round"}}
    ]},
   {"data":{"values":[{"t":0,"v":0}]},"mark":{"type":"point","opacity":0},
    "encoding":{"x":{"field":"t","type":"quantitative","scale":{"domain":[0,1.2],"nice":false,"zero":false},"axis":{"orient":"top","values":[0,0.4,0.8,1.2],"labels":false,"domain":false,"title":null}},
     "y":{"field":"v","type":"quantitative","scale":{"domain":[-10,50],"nice":false,"zero":false},"axis":{"orient":"right","values":[-10,0,10,20,30,40,50],"labels":false,"domain":false,"title":null}}}}
  ],
  "resolve":{"scale":{"x":"independent","y":"independent"}}},
 {"width":533,"height":151,"title":"Stator resistance estimation (Ω)",
  "layer":[
   {"encoding":{"x":{"field":"t","type":"quantitative","scale":{"domain":[0,1.2],"nice":false,"zero":false},"axis":{"orient":"bottom","values":[0,0.4,0.8,1.2],"title":"time (s)","titleY":22,"titleBaseline":"alphabetic","labelExpr":"''+datum.value"}},
     "y":{"field":"v","type":"quantitative","scale":{"domain":[0,6],"nice":false,"zero":false},"axis":{"orient":"left","values":[0,1,2,3,4,5,6],"title":null,"labelExpr":"''+datum.value"}}},
    "layer":[
     {"data":{"values":[{"t":0,"v":4.85},{"t":1.2,"v":4.85}]},"mark":{"type":"line","color":"#ff0000","strokeWidth":1.2,"clip":true}},
     {"data":{"name":"rs"},"mark":{"type":"line","color":"#000","strokeWidth":1.3,"clip":true,"strokeJoin":"round"}}
    ]},
   {"data":{"values":[{"t":0,"v":0}]},"mark":{"type":"point","opacity":0},
    "encoding":{"x":{"field":"t","type":"quantitative","scale":{"domain":[0,1.2],"nice":false,"zero":false},"axis":{"orient":"top","values":[0,0.4,0.8,1.2],"labels":false,"domain":false,"title":null}},
     "y":{"field":"v","type":"quantitative","scale":{"domain":[0,6],"nice":false,"zero":false},"axis":{"orient":"right","values":[0,1,2,3,4,5,6],"labels":false,"domain":false,"title":null}}}},
   {"encoding":{"x":{"field":"t","type":"quantitative","scale":{"domain":[0,0.06],"range":[102,462],"nice":false,"zero":false},"axis":{"orient":"bottom","offset":-37,"values":[0,0.03,0.06],"title":null,"labelExpr":"''+datum.value","labelFontSize":10,"tickSize":-3,"labelPadding":2}},
     "y":{"field":"v","type":"quantitative","scale":{"domain":[0,6],"range":[114,65.3],"nice":false,"zero":false},"axis":{"orient":"left","offset":-102,"values":[0,3,4.95,6],"title":null,"labelExpr":"datum.value == 4.95 ? 'Rsn' : ''+datum.value","labelFontSize":10,"tickSize":-3,"labelPadding":3}}},
    "layer":[
     {"data":{"name":"rsIn"},"mark":{"type":"line","color":"#777","strokeWidth":1.1}},
     {"data":{"values":[{"t":0,"v":4.95},{"t":0.06,"v":4.95}]},"mark":{"type":"line","color":"#ff0000","strokeWidth":1.2}}
    ]}
  ],
  "resolve":{"scale":{"x":"independent","y":"independent"}}}
]
}
